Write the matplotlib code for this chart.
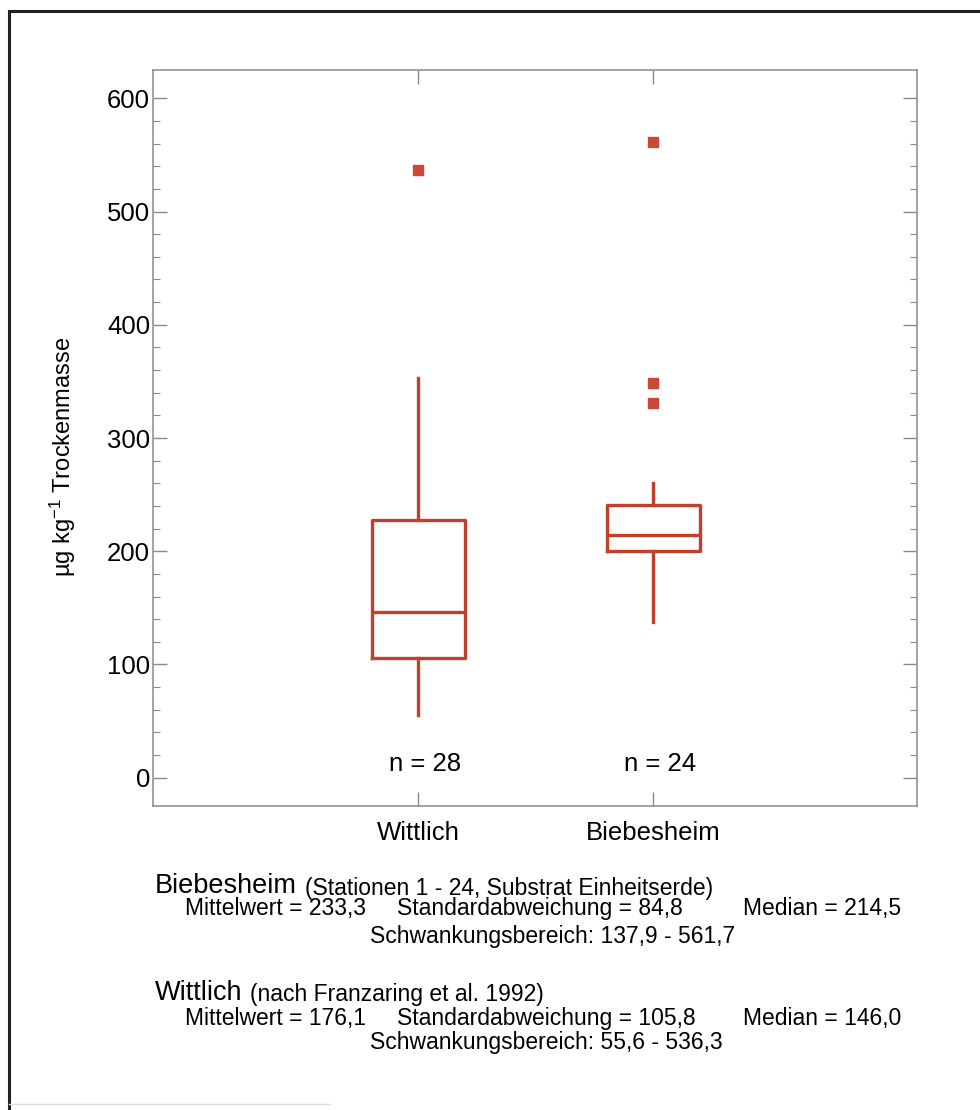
import matplotlib
matplotlib.use("Agg")
from matplotlib import pyplot as plt
from matplotlib.ticker import FixedLocator
from matplotlib.lines import Line2D

plt.rcParams['font.family'] = ['Liberation Sans', 'DejaVu Sans']
plt.rcParams['mathtext.fontset'] = 'custom'
plt.rcParams['mathtext.rm'] = 'Liberation Sans'
plt.rcParams['mathtext.it'] = 'Liberation Sans:italic'

# Box statistics per site (µg/kg dry mass)
sites = ["Wittlich", "Biebesheim"]
positions = [1, 2]
n_samples = [28, 24]
whislo = [55.6, 137.9]
q1 = [106.0, 200.0]
med = [146.0, 214.5]
q3 = [228.0, 241.0]
whishi = [353.0, 260.0]
fliers = [[536.3], [331.0, 348.5, 561.7]]

red = "#c23f2b"
grey = "#8a8a8a"

W, H = 980, 1110
fig = plt.figure(figsize=(W / 100, H / 100), dpi=100)
fig.patch.set_facecolor("white")


def fx(px):
    return px / W


def fy(py):
    return 1 - py / H


ax = fig.add_axes([fx(153), fy(806), fx(917) - fx(153), fy(70) - fy(806)])

stats = []
for i in range(len(sites)):
    stats.append(dict(label=sites[i], whislo=whislo[i], q1=q1[i], med=med[i],
                      q3=q3[i], whishi=whishi[i], fliers=fliers[i]))

lp = dict(color=red, linewidth=2.4)
ax.bxp(stats, positions=positions, widths=0.396, showcaps=False,
       boxprops=lp, medianprops=lp, whiskerprops=lp,
       flierprops=dict(marker='s', markerfacecolor="#c9483a",
                       markeredgecolor="#c9483a", markersize=7))

for p, n in zip(positions, n_samples):
    ax.text(p + 0.03, 12, "n = %d" % n, ha='center', va='center', fontsize=18.5)

ax.set_xlim(-0.128, 3.123)
ax.set_ylim(-25, 625)

ax.set_xticks(positions)
ax.set_xticklabels(sites)
ax.set_yticks(range(0, 601, 100))
ax.yaxis.set_minor_locator(FixedLocator([v for v in range(0, 601, 20) if v % 100]))

ax.tick_params(axis='x', direction='in', length=10, width=1, color=grey,
               top=True, labelsize=18.5, pad=11)
ax.tick_params(axis='y', which='major', direction='in', length=10, width=1,
               color=grey, right=True, labelsize=18.5, pad=2)
ax.tick_params(axis='y', which='minor', direction='in', length=5, width=0.8,
               color=grey, right=True)
for s in ax.spines.values():
    s.set_color(grey)
    s.set_linewidth(1.1)

fig.text(fx(63), fy(457), r"µg kg$^{-1}$ Trockenmasse", rotation=90,
         ha='center', va='center', fontsize=17)

# summary text below the plot
fig.text(fx(155), fy(886), "Biebesheim", fontsize=19.5, va='center')
fig.text(fx(305), fy(888), "(Stationen 1 - 24, Substrat Einheitserde)",
         fontsize=16.5, va='center')
fig.text(fx(185), fy(909), "Mittelwert = 233,3", fontsize=16.5, va='center')
fig.text(fx(397), fy(909), "Standardabweichung = 84,8", fontsize=16.5, va='center')
fig.text(fx(743), fy(909), "Median = 214,5", fontsize=16.5, va='center')
fig.text(fx(370), fy(936), "Schwankungsbereich: 137,9 - 561,7", fontsize=16.5, va='center')

fig.text(fx(155), fy(993), "Wittlich", fontsize=19.5, va='center')
fig.text(fx(250), fy(995), "(nach Franzaring et al. 1992)",
         fontsize=16.5, va='center')
fig.text(fx(185), fy(1018), "Mittelwert = 176,1", fontsize=16.5, va='center')
fig.text(fx(397), fy(1018), "Standardabweichung = 105,8", fontsize=16.5, va='center')
fig.text(fx(743), fy(1018), "Median = 146,0", fontsize=16.5, va='center')
fig.text(fx(370), fy(1042), "Schwankungsbereich: 55,6 - 536,3", fontsize=16.5, va='center')

# page frame
fig.add_artist(Line2D([fx(9), fx(9)], [fy(11), fy(1110)], transform=fig.transFigure,
                      color="#222222", linewidth=2.2))
fig.add_artist(Line2D([fx(9), fx(980)], [fy(11), fy(11)], transform=fig.transFigure,
                      color="#222222", linewidth=2.2))
fig.add_artist(Line2D([fx(9), fx(330)], [fy(1104), fy(1104)], transform=fig.transFigure,
                      color="#dddddd", linewidth=1.0))

fig.savefig("out.png", dpi=100)
